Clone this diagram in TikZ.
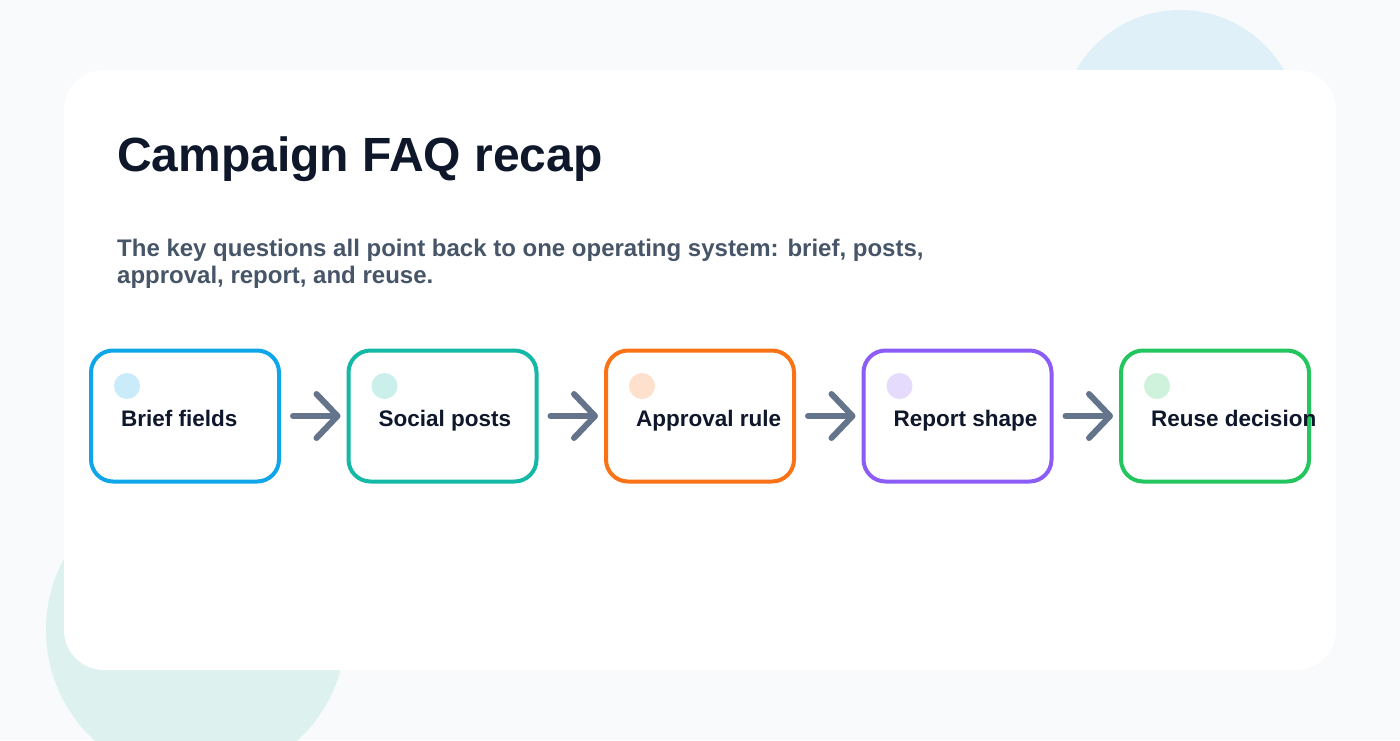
\documentclass[tikz,border=0pt]{standalone}
\usepackage{fontspec}
\setmainfont{Liberation Sans}
\usetikzlibrary{arrows.meta,calc}
\definecolor{bgc}{HTML}{F8FAFC}
\definecolor{blobblue}{HTML}{E0F0F9}
\definecolor{blobteal}{HTML}{DDF2EF}
\definecolor{titlec}{HTML}{0F172A}
\definecolor{subc}{HTML}{475569}
\definecolor{arrowc}{HTML}{64748B}
\definecolor{cblue}{HTML}{0EA5E9}
\definecolor{cteal}{HTML}{14B8A6}
\definecolor{corange}{HTML}{F97316}
\definecolor{cpurple}{HTML}{8B5CF6}
\definecolor{cgreen}{HTML}{22C55E}
\tikzset{
  stepbox/.style={draw=#1, line width=4pt, rounded corners=22pt, fill=white,
    minimum width=188pt, minimum height=131pt, inner sep=0pt, outer sep=0pt},
  steplabel/.style={anchor=base west, inner sep=0pt, text=titlec,
    font=\bfseries\fontsize{22.5}{27}\selectfont},
  conn/.style={draw=arrowc, line width=6pt, line cap=round, line join=round,
    shorten <=14pt, shorten >=8pt,
    -{Straight Barb[length=21pt, width=44pt, line cap=round, line join=round]}},
}
\begin{document}
\begin{tikzpicture}[x=1pt,y=-1pt]
\useasboundingbox (0,0) rectangle (1400,740);
\fill[bgc] (0,0) rectangle (1400,740);
\begin{scope}
  \clip (0,0) rectangle (1400,740);
  \fill[blobblue] (1180,130) circle (120);
  \fill[blobteal] (196,630) circle (150);
\end{scope}
\fill[white, rounded corners=40pt] (64,70) rectangle (1336,670);

\node[anchor=base west, inner sep=0pt, text=titlec, font=\bfseries\fontsize{48}{58}\selectfont]
  (title) at (117,171) {Campaign FAQ recap};
\node[anchor=base west, inner sep=0pt, text=subc, font=\bfseries\fontsize{24}{28}\selectfont]
  (sub1) at (117,256) {The key questions all point back to one operating system: brief, posts,};
\node[anchor=base west, inner sep=0pt, text=subc, font=\bfseries\fontsize{24}{28}\selectfont]
  (sub2) at (117,283) {approval, report, and reuse.};

\node[stepbox=cblue]   (b1) at (185,416) {};
\node[stepbox=cteal]   (b2) at (442.5,416) {};
\node[stepbox=corange] (b3) at (700,416) {};
\node[stepbox=cpurple] (b4) at (957.5,416) {};
\node[stepbox=cgreen]  (b5) at (1215,416) {};

\foreach \b/\c/\t in {b1/cblue/Brief fields, b2/cteal/Social posts, b3/corange/Approval rule, b4/cpurple/Report shape, b5/cgreen/Reuse decision}{
  \fill[\c!22!white] ($(\b.west)+(36,-30)$) circle (13);
  \node[steplabel] (\b-label) at ($(\b.west)+(30,10)$) {\t};
}

\draw[conn] (b1) -- (b2);
\draw[conn] (b2) -- (b3);
\draw[conn] (b3) -- (b4);
\draw[conn] (b4) -- (b5);
\end{tikzpicture}
\end{document}
